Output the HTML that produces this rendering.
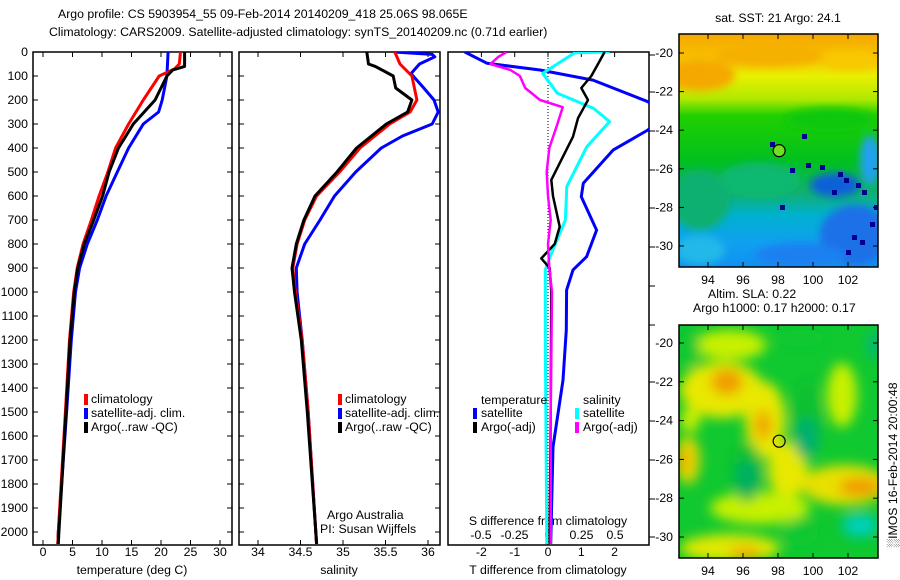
<!DOCTYPE html>
<html><head><meta charset="utf-8"><style>
html,body{margin:0;padding:0;background:#fff;}
svg{display:block;font-family:"Liberation Sans",sans-serif;}
text{font-size:12.3px;fill:#000;}
</style></head><body>
<svg id="fig" width="900" height="580" viewBox="0 0 900 580">
<defs>
<clipPath id="cp1"><rect x="33" y="52" width="199" height="493"/></clipPath>
<clipPath id="cp2"><rect x="239" y="52" width="201" height="493"/></clipPath>
<clipPath id="cp3"><rect x="448" y="52" width="201" height="493"/></clipPath>
<clipPath id="cpm1"><rect x="679" y="34" width="199" height="233"/></clipPath>
<clipPath id="cpm2"><rect x="679" y="325" width="199" height="233"/></clipPath>
<filter id="blur" x="-50%" y="-50%" width="200%" height="200%"><feGaussianBlur stdDeviation="6"/></filter>
<filter id="blur2" x="-50%" y="-50%" width="200%" height="200%"><feGaussianBlur stdDeviation="4"/></filter>
<linearGradient id="sstg" x1="0" y1="0" x2="0" y2="1">
<stop offset="0" stop-color="#f5a800"/><stop offset="0.1" stop-color="#f8c000"/>
<stop offset="0.18" stop-color="#e8f000"/><stop offset="0.28" stop-color="#b0e800"/>
<stop offset="0.35" stop-color="#20d000"/><stop offset="0.55" stop-color="#00c020"/>
<stop offset="0.68" stop-color="#10b070"/><stop offset="0.78" stop-color="#00b0d0"/>
<stop offset="0.9" stop-color="#10a0f0"/><stop offset="1" stop-color="#1090f0"/></linearGradient>
</defs>
<text x="58" y="18">Argo profile: CS 5903954_55 09-Feb-2014 20140209_418 25.06S 98.065E</text>
<text x="49" y="36">Climatology: CARS2009. Satellite-adjusted climatology: synTS_20140209.nc (0.71d earlier)</text>
<g id="axes"></g>
<g id="maps"></g>
</svg>
<script>
// ---------- data ----------
const depthTicks=[0,100,200,300,400,500,600,700,800,900,1000,1100,1200,1300,1400,1500,1600,1700,1800,1900,2000];
const tempTicks=[0,5,10,15,20,25,30];
const salTicks=[34,34.5,35,35.5,36];
const salTickLabels=["34","34.5","35","35.5","36"];
const tdiffTicks=[-2,-1,0,1,2];
const sdiffTicks=[-0.5,-0.25,0,0.25,0.5];
const sdiffTickLabels=["-0.5","-0.25","0","0.25","0.5"];

const tClimDepth=[0,50,70,100,200,300,400,500,600,700,800,900,1000,1200,1500,2000,2050];
const tClim=[23.3,23.1,22.3,19.7,17,14.5,12.3,11,9.5,8.2,6.8,5.8,5.2,4.5,3.8,2.6,2.5];
const tArgoDepth=[0,60,75,100,200,300,400,500,600,700,800,900,1000,1200,1500,2000,2050];
const tArgo=[24,24,22,21,19,15.3,12.8,11.2,10.1,8.6,7.0,5.9,5.3,4.6,3.9,2.7,2.6];
const tSatDepth=[0,100,200,250,300,400,500,600,700,800,900,1000,1200,1500,2000,2050];
const tSat=[21.2,21,20.2,19.6,17,14.5,12.6,10.7,9.2,7.5,6.2,5.5,4.8,4.0,2.6,2.5];

const sClimDepth=[0,50,100,200,250,300,400,500,600,700,800,900,1000,1200,1500,2000,2050];
const sClim=[35.61,35.67,35.81,35.87,35.79,35.55,35.2,34.96,34.69,34.55,34.46,34.41,34.44,34.52,34.59,34.68,34.69];
const sArgoDepth=[0,50,60,100,150,200,250,300,400,500,600,700,800,900,1000,1200,1500,2000,2050];
const sArgo=[35.28,35.3,35.38,35.59,35.62,35.81,35.76,35.51,35.16,34.93,34.67,34.54,34.45,34.4,34.43,34.51,34.58,34.68,34.69];
const sSatDepth=[0,10,20,50,90,150,200,250,300,350,400,500,600,700,800,900,1000,1200,1500,2000,2050];
const sSat=[35.6,36.05,36.08,35.9,35.8,35.95,36.07,36.12,36.05,35.7,35.45,35.15,34.9,34.73,34.55,34.45,34.46,34.52,34.59,34.68,34.69];

const dTSatDepth=[0,47,75,117,207,260,325,408,547,603,742,853,908,992,1158,1367,1646,2000,2050];
const dTSat=[-2.5,-1.83,-0.24,1.35,3.0,3.5,3.0,1.96,1.06,1.0,1.46,1.16,0.75,0.56,0.55,0.45,0.15,0.09,0.08];
const dTArgoDepth=[0,25,50,100,150,200,276,353,436,533,600,728,800,860,900,1000,1500,2000,2050];
const dTArgo=[1.7,1.6,1.5,1.3,1.0,1.2,0.9,0.75,0.45,0.1,0.15,0.35,0.2,-0.2,0.05,0.1,0.08,0.05,0.05];
const dSSatDepth=[0,3,89,172,235,290,394,561,700,853,908,1200,1600,2000,2050];
const dSSat=[0.46,0.2,-0.04,0.07,0.34,0.46,0.29,0.14,0.13,0.015,-0.02,-0.02,-0.015,-0.01,-0.01];
const dSArgoDepth=[0,20,50,75,100,150,200,230,300,400,500,600,700,800,900,1000,1500,2000,2050];
const dSArgo=[-0.31,-0.37,-0.43,-0.28,-0.21,-0.17,-0.06,0.11,0.07,0.01,-0.01,0,0.02,0.0,0.01,0.03,0.02,0.02,0.02];

const lonTicks=[94,96,98,100,102];
const latTicks=[-20,-22,-24,-26,-28,-30];
const argoLon=98.065, argoLat=-25.06;

// ---------- helpers ----------
const NS="http://www.w3.org/2000/svg";
const G=document.getElementById('axes');
const M=document.getElementById('maps');
function mk(tag,attrs,parent){const e=document.createElementNS(NS,tag);for(const k in attrs)e.setAttribute(k,attrs[k]);(parent||G).appendChild(e);return e;}
const yD=d=>52+0.24*d;
const xT=t=>43+5.9*t;
const xS=s=>258+85*(s-34);
const xDT=t=>548+33.3*t;
const xDS=s=>548+134*s;
const TOP=52,BOT=545;

function panel(x0,x1,name,rightTicks){
  const r=mk('rect',{x:x0,y:TOP,width:x1-x0,height:BOT-TOP,fill:'none',stroke:'#000','stroke-width':1.5});
  
  
  depthTicks.forEach(d=>{
    const a=mk('line',{x1:x0,x2:x0+5,y1:yD(d),y2:yD(d),stroke:'#000'});
    
    
    if(rightTicks){const b=mk('line',{x1:x1-5,x2:x1,y1:yD(d),y2:yD(d),stroke:'#000'});
    
    }
  });
}
function xticks(ticks,labels,fx,ylab,name,top){
  ticks.forEach((t,i)=>{
    const x=fx(t);
    const a=mk('line',{x1:x,x2:x,y1:BOT-5,y2:BOT,stroke:'#000'});
    
    
    if(top){const b=mk('line',{x1:x,x2:x,y1:TOP,y2:TOP+5,stroke:'#000'});
    
    }
    const tx=mk('text',{x:x,y:ylab,'text-anchor':'middle'});
    tx.textContent=labels[i];
    
    
  });
}
function line(depths,vals,fx,color,clip,name,w){
  const pts=depths.map((d,i)=>fx(vals[i]).toFixed(1)+','+yD(d).toFixed(1)).join(' ');
  const p=mk('polyline',{points:pts,fill:'none',stroke:color,'stroke-width':w||3,'clip-path':'url(#'+clip+')','stroke-linejoin':'round'});
  
  
}
function txt(x,y,s,name,anchor){const t=mk('text',{x:x,y:y,'text-anchor':anchor||'start'});t.textContent=s;
  
  return t;}
function marker(x,y,color,name){const r=mk('rect',{x:x,y:y-9,width:4,height:11,fill:color});
  
  }

depthTicks.forEach(d=>{txt(28,yD(d)+4,String(d),'depth-tick-label','end');});

// panel 1
panel(33,232,'temperature-panel',true);
xticks(tempTicks,tempTicks.map(String),xT,556,'temperature-axis',true);
txt(132,574,'temperature (deg C)','temperature-axis-title','middle');
line(tSatDepth,tSat,xT,'#0000ff','cp1','temp-satellite-line');
line(tClimDepth,tClim,xT,'#ff0000','cp1','temp-climatology-line');
line(tArgoDepth,tArgo,xT,'#000000','cp1','temp-argo-line');
marker(84,403,'#ff0000','legend-climatology-marker');txt(91,403,'climatology','legend-climatology');
marker(84,417,'#0000ff','legend-satellite-marker');txt(91,417,'satellite-adj. clim.','legend-satellite');
marker(84,431,'#000','legend-argo-marker');txt(91,431,'Argo(..raw -QC)','legend-argo');

// panel 2
panel(239,440,'salinity-panel',true);
xticks(salTicks,salTickLabels,xS,556,'salinity-axis',true);
txt(339,574,'salinity','salinity-axis-title','middle');
line(sSatDepth,sSat,xS,'#0000ff','cp2','sal-satellite-line');
line(sClimDepth,sClim,xS,'#ff0000','cp2','sal-climatology-line');
line(sArgoDepth,sArgo,xS,'#000000','cp2','sal-argo-line');
marker(338,403,'#ff0000','legend-climatology-marker');txt(345,403,'climatology','legend-climatology');
marker(338,417,'#0000ff','legend-satellite-marker');txt(345,417,'satellite-adj. clim.','legend-satellite');
marker(338,431,'#000','legend-argo-marker');txt(345,431,'Argo(..raw -QC)','legend-argo');
txt(327,519,'Argo Australia','credit-argo-australia');
txt(320,533,'PI: Susan Wijffels','credit-pi');

// panel 3
{const r=mk('rect',{x:448,y:TOP,width:201,height:BOT-TOP,fill:'none',stroke:'#000','stroke-width':1.5});

}
[55,92,131,170,208,247,286,325,382,421,460,499,537].forEach(y=>{
  const a=mk('line',{x1:649,x2:655,y1:y,y2:y,stroke:'#000'});
  
  
});
tdiffTicks.forEach(t=>{const a=mk('line',{x1:xDT(t),x2:xDT(t),y1:TOP,y2:TOP+5,stroke:'#000'});
  
  });
tdiffTicks.forEach(t=>{txt(xDT(t),556,String(t),'tdiff-tick-label','middle');});
sdiffTicks.forEach((s,i)=>{txt(xDS(s),539,sdiffTickLabels[i],'sdiff-tick-label','middle');});
txt(548,574,'T difference from climatology','tdiff-axis-title','middle');
txt(548,525,'S difference from climatology','sdiff-axis-title','middle');
{const z=mk('line',{x1:548,x2:548,y1:TOP,y2:BOT,stroke:'#000','stroke-dasharray':'1,2','stroke-width':1});

}
line(dTSatDepth,dTSat,xDT,'#0000ff','cp3','tdiff-satellite-line');
line(dSSatDepth,dSSat,xDS,'#00ffff','cp3','sdiff-satellite-line');
line(dTArgoDepth,dTArgo,xDT,'#000000','cp3','tdiff-argo-line',2.5);
line(dSArgoDepth,dSArgo,xDS,'#ff00ff','cp3','sdiff-argo-line',2.5);
txt(481,404,'temperature','legend-temperature-heading');
marker(473,417,'#0000ff','legend-tsat-marker');txt(481,417,'satellite','legend-tsat');
marker(473,431,'#000','legend-targo-marker');txt(481,431,'Argo(-adj)','legend-targo');
txt(583,404,'salinity','legend-salinity-heading');
marker(575,417,'#00ffff','legend-ssat-marker');txt(583,417,'satellite','legend-ssat');
marker(575,431,'#ff00ff','legend-sargo-marker');txt(583,431,'Argo(-adj)','legend-sargo');

// ---------- maps ----------
const mxL=lon=>708+(lon-94)*17.5;
const myT=lat=>53+(-20-lat)*19.3;
const myB=lat=>343+(-20-lat)*19.4;
function mapAxes(y0,fy,name){
  const r=mk('rect',{x:679,y:y0,width:199,height:233,fill:'none',stroke:'#000','stroke-width':1.5},M);
  
  
  lonTicks.forEach(l=>{const x=mxL(l);
    const a=mk('line',{x1:x,x2:x,y1:y0+233,y2:y0+228,stroke:'#000'},M);
    
    
    const b=mk('line',{x1:x,x2:x,y1:y0,y2:y0+5,stroke:'#000'},M);
    
    
    const t=mk('text',{x:x,y:y0+250,'text-anchor':'middle'},M);t.textContent=String(l);
    
    });
  latTicks.forEach(l=>{const y=fy(l);
    const a=mk('line',{x1:679,x2:684,y1:y,y2:y,stroke:'#000'},M);
    
    
    const b=mk('line',{x1:873,x2:878,y1:y,y2:y,stroke:'#000'},M);
    
    
    const t=mk('text',{x:673,y:y+4,'text-anchor':'end'},M);t.textContent=String(l);
    
    });
}
// SST map
{const g=mk('g',{'clip-path':'url(#cpm1)'},M);


mk('rect',{x:679,y:34,width:199,height:233,fill:'url(#sstg)'},g);
const bl=mk('g',{filter:'url(#blur2)'},g);
[[700,75,35,16,'#f5a800'],[770,55,55,12,'#f6b000'],[850,60,30,10,'#f8c800'],[700,200,30,30,'#10b070'],[760,180,40,18,'#10b870'],[855,235,35,30,'#1a70e8'],[835,185,25,12,'#1060d8'],[800,255,45,12,'#1a80f0'],[870,160,10,25,'#20a0f0'],[700,250,25,15,'#20b8e8'],[830,120,45,12,'#10c810']].forEach(a=>{
  mk('ellipse',{cx:a[0],cy:a[1],rx:a[2],ry:a[3],fill:a[4]},bl);});
[[838,172],[844,178],[856,183],[862,190],[832,190],[820,165],[806,163],[790,168],[874,205],[870,222],[852,235],[860,240],[846,250],[780,205],[770,142],[802,134]].forEach(p=>{
  mk('rect',{x:p[0],y:p[1],width:5,height:5,fill:'#000090'},g);});
}
mapAxes(34,myT,'sst-map');
{const c=mk('circle',{cx:mxL(argoLon),cy:myT(argoLat),r:6,fill:'#70e020',stroke:'#000','stroke-width':1.2},M);

}
{const t=mk('text',{x:778,y:22,'text-anchor':'middle'},M);t.textContent='sat. SST: 21 Argo: 24.1';

}

// SLA map
{const g=mk('g',{'clip-path':'url(#cpm2)'},M);


mk('rect',{x:679,y:325,width:199,height:233,fill:'#10c830'},g);
const bl=mk('g',{filter:'url(#blur)'},g);
[[730,345,36,15,'#c8f000'],[722,390,42,28,'#e8e800'],[765,420,20,38,'#e8e800'],[788,470,20,28,'#e8e800'],[688,460,12,24,'#e8d800'],[760,508,50,16,'#c8f000'],[845,485,44,20,'#e8e000'],[842,395,15,32,'#c8f000'],[730,548,50,14,'#e0e800'],[690,420,10,12,'#c8f000']].forEach(a=>{
  mk('ellipse',{cx:a[0],cy:a[1],rx:a[2],ry:a[3],fill:a[4]},bl);});
[[727,382,16,13,'#f09c00'],[763,425,9,15,'#f0a800'],[860,487,21,9,'#f09800'],[745,553,16,7,'#f0b000'],[684,460,7,11,'#f0b400']].forEach(a=>{
  mk('ellipse',{cx:a[0],cy:a[1],rx:a[2],ry:a[3],fill:a[4]},bl);});
[[747,472,16,30,'#10c030'],[806,420,15,40,'#10c030'],[800,338,26,8,'#10c830'],[690,350,10,18,'#10c830'],[800,532,18,14,'#10c830'],[862,527,24,15,'#10c830']].forEach(a=>{
  mk('ellipse',{cx:a[0],cy:a[1],rx:a[2],ry:a[3],fill:a[4]},bl);});
[[747,478,12,18,'#00b060'],[807,438,12,20,'#00b070'],[860,525,16,10,'#00d0c0'],[875,345,7,14,'#00b880']].forEach(a=>{
  mk('ellipse',{cx:a[0],cy:a[1],rx:a[2],ry:a[3],fill:a[4]},bl);});
}
mapAxes(325,myB,'sla-map');
{const c=mk('circle',{cx:mxL(argoLon),cy:myB(argoLat),r:6,fill:'none',stroke:'#000','stroke-width':1.2},M);

}
{const t=mk('text',{x:708,y:298},M);t.textContent='Altim. SLA: 0.22';


const t2=mk('text',{x:693,y:312},M);t2.textContent='Argo h1000: 0.17 h2000: 0.17';


const t3=mk('text',{x:897,y:465,'text-anchor':'middle',transform:'rotate(-90 897 465)'},M);t3.textContent='\u2591IMOS 16-Feb-2014 20:00:48';

}
</script>
</body></html>
